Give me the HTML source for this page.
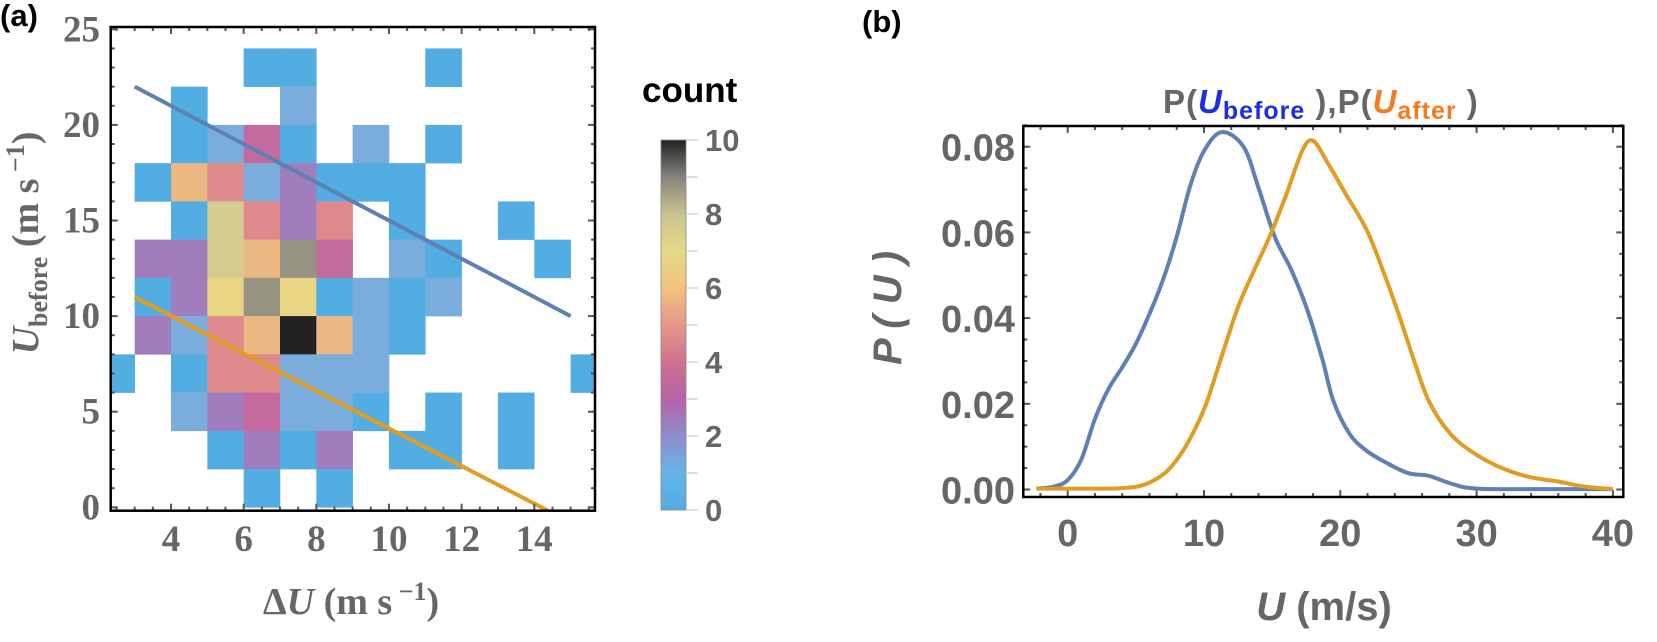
<!DOCTYPE html>
<html><head><meta charset="utf-8"><style>
html,body{margin:0;padding:0;background:#fff;}
svg{display:block;}
</style></head><body>
<svg id="chart" xmlns="http://www.w3.org/2000/svg" width="1657" height="642" viewBox="0 0 1657 642">
<defs>
<clipPath id="clipA"><rect x="110.7" y="27" width="484.3" height="483.7"/></clipPath>
<clipPath id="clipB"><rect x="1023.3" y="126" width="600" height="371"/></clipPath>
<linearGradient id="cbGrad" x1="0" y1="1" x2="0" y2="0">
<stop offset="0" stop-color="#52aee2"/>
<stop offset="0.1" stop-color="#66b4e8"/>
<stop offset="0.2" stop-color="#8f8dcc"/>
<stop offset="0.3" stop-color="#b463a8"/>
<stop offset="0.4" stop-color="#d0718f"/>
<stop offset="0.5" stop-color="#e5978a"/>
<stop offset="0.6" stop-color="#f2c37e"/>
<stop offset="0.7" stop-color="#e7da87"/>
<stop offset="0.8" stop-color="#c9c391"/>
<stop offset="0.9" stop-color="#85847d"/>
<stop offset="1" stop-color="#222222"/>
</linearGradient>
</defs>
<g id="panelA"></g>
<g id="panelB"></g>
<text x="0" y="26" font-family="Liberation Sans, sans-serif" font-weight="bold" font-size="31" fill="#000">(a)</text>
<text x="862" y="32" font-family="Liberation Sans, sans-serif" font-weight="bold" font-size="31" fill="#000">(b)</text>
<text x="642" y="102" font-family="Liberation Sans, sans-serif" font-weight="bold" font-size="35" fill="#000">count</text>
<text transform="translate(38,243) rotate(-90)" text-anchor="middle" font-family="Liberation Serif, serif" font-weight="bold" font-size="38" fill="#666"><tspan font-style="italic">U</tspan><tspan font-size="26" dy="9">before</tspan><tspan dy="-9"> (m s</tspan><tspan font-size="26" dy="-14"> −1</tspan><tspan dy="14">)</tspan></text>
<text x="351" y="614" text-anchor="middle" font-family="Liberation Serif, serif" font-weight="bold" font-size="38" fill="#666">Δ<tspan font-style="italic">U</tspan> (m s<tspan font-size="26" dy="-14"> −1</tspan><tspan dy="14">)</tspan></text>
<text x="1163" y="113" font-family="Liberation Sans, sans-serif" font-weight="bold" font-size="33" letter-spacing="1" fill="#666">P(<tspan fill="#1a2ee6" font-style="italic">U</tspan><tspan fill="#1a2ee6" font-size="25" dy="6">before</tspan><tspan dy="-6"> ),P(</tspan><tspan fill="#f47b20" font-style="italic">U</tspan><tspan fill="#f47b20" font-size="25" dy="6">after</tspan><tspan dy="-6"> )</tspan></text>
<text transform="translate(901,308) rotate(-90)" text-anchor="middle" font-family="Liberation Sans, sans-serif" font-weight="bold" font-style="italic" font-size="40" fill="#666">P ( U )</text>
<text x="1324" y="620" text-anchor="middle" font-family="Liberation Sans, sans-serif" font-weight="bold" font-size="40" fill="#666"><tspan font-style="italic">U</tspan> (m/s)</text>
</svg>
<script>
// ---- Panel (a) data: heatmap cells [dU bin start, U bin start, count]
const cellX = [6,7,11, 4,7, 4,5,6,7,9,11, 3,4,5,6,7,8,9,10, 4,5,6,7,8,10,13, 3,4,5,6,7,8,10,11,14, 3,4,5,6,7,8,9,10,11, 3,4,5,6,7,8,9,10, 2,4,5,6,7,8,9,15, 4,5,6,7,8,9,11,13, 5,6,7,8,10,11,13, 6,8];
const cellY = [22,22,22, 20,20, 18,18,18,18,18,18, 16,16,16,16,16,16,16,16, 14,14,14,14,14,14,14, 12,12,12,12,12,12,12,12,12, 10,10,10,10,10,10,10,10,10, 8,8,8,8,8,8,8,8, 6,6,6,6,6,6,6,6, 4,4,4,4,4,4,4,4, 2,2,2,2,2,2,2, 0,0];
const cellCount = [1,1,1, 1,2, 1,2,4,1,2,1, 1,6,5,2,3,1,1,1, 1,8,5,3,5,1,1, 3,3,8,6,9,4,2,1,1, 1,3,7,9,7,1,2,1,2, 3,2,5,6,10,6,2,1, 1,1,5,5,2,2,2,1, 2,3,4,2,2,1,1,1, 1,3,1,3,1,1,1, 1,1];
const xTicksA = [4,6,8,10,12,14];
const yTicksA = [0,5,10,15,20,25];
const cbTicks = [0,2,4,6,8,10];
const lineBlue = [[3,22],[15,10]];
const lineOrange = [[3,11],[14.4,-0.2]];
// ---- Panel (b) data: density curves
const uBefore = [-2.3,-1,0,1,2,3,4,5,6,7,8,9,10,11.3,12.9,14.0,15.2,16.4,17.6,18.7,19.5,20.7,21.9,23.4,25.0,26.5,28.1,30.0,35,40];
const pBefore = [0.0002,0.0007,0.0022,0.007,0.0165,0.0235,0.0285,0.034,0.041,0.049,0.059,0.071,0.079,0.0834,0.080,0.0704,0.0589,0.0513,0.0417,0.0302,0.0206,0.0129,0.0091,0.0062,0.0038,0.0032,0.0014,0.0002,0.0001,0.0001];
const uAfter = [-2.3,0,2,3.9,5.5,7,8,9.0,10.1,11.3,12.5,13.7,14.8,16.0,17.2,18.0,19.1,20.3,21.9,23.0,24.2,25.4,26.5,28.1,30.0,32.0,33.9,35.9,37.9,40];
const pAfter = [0.0002,0.0002,0.0002,0.0003,0.001,0.0035,0.0069,0.012,0.0195,0.0311,0.0426,0.0513,0.0589,0.0685,0.079,0.0814,0.0761,0.0695,0.0608,0.0522,0.0417,0.0302,0.0206,0.0129,0.0081,0.0048,0.0029,0.0019,0.0007,0.0001];
const xTicksB = [0,10,20,30,40];
const yTicksB = [0,0.02,0.04,0.06,0.08];

const NS = 'http://www.w3.org/2000/svg';
const palette = ['#ffffff','#52aee2','#7aacdc','#a07ebd','#c46a9f','#de8a8c','#ecb882','#ead585','#d5cc90','#969383','#222222'];
function mk(tag, attrs, parent){const e=document.createElementNS(NS,tag);for(const k in attrs)e.setAttribute(k,attrs[k]);parent.appendChild(e);return e;}

const xa = v => 171 + (v-4)*36.33;
const ya = v => 507.3 - v*19.12;
const xb = v => 1067.7 + v*13.63;
const yb = v => 489.5 - v*4285;

// ---------- Panel A ----------
const A = document.getElementById('panelA');
const cellsG = mk('g',{'clip-path':'url(#clipA)'},A);


for(let i=0;i<cellX.length;i++){
  const x0=xa(cellX[i]), x1=xa(cellX[i]+1), y0=ya(cellY[i]+2), y1=ya(cellY[i]);
  const r=mk('rect',{x:x0,y:y0,width:x1-x0+0.3,height:y1-y0+0.3,fill:palette[Math.round(cellCount[i])]||'#222'},cellsG);
  
  
}
const lb=mk('line',{x1:xa(lineBlue[0][0]),y1:ya(lineBlue[0][1]),x2:xa(lineBlue[1][0]),y2:ya(lineBlue[1][1]),stroke:'#5e81b5','stroke-width':4,'clip-path':'url(#clipA)'},A);


const lo=mk('line',{x1:xa(lineOrange[0][0]),y1:ya(lineOrange[0][1]),x2:xa(lineOrange[1][0]),y2:ya(lineOrange[1][1]),stroke:'#e19c24','stroke-width':4,'clip-path':'url(#clipA)'},A);


const tkA=mk('g',{stroke:'#555','stroke-width':2},A);
for(let v=2.5;v<=15.5;v+=0.5){
  const len=(v%2===0)?7:4; const x=xa(v);
  mk('line',{x1:x,y1:510.7,x2:x,y2:510.7-len},tkA);
  mk('line',{x1:x,y1:27,x2:x,y2:27+len},tkA);
}
for(let v=0;v<=25;v+=1){
  const len=(v%5===0)?7:4; const y=ya(v);
  mk('line',{x1:110.7,y1:y,x2:110.7+len,y2:y},tkA);
  mk('line',{x1:595,y1:y,x2:595-len,y2:y},tkA);
}
const frA=mk('rect',{x:110.7,y:27,width:484.3,height:483.7,fill:'none',stroke:'#000','stroke-width':2.5},A);


xTicksA.forEach(v=>{
  const t=mk('text',{x:xa(v),y:551,'text-anchor':'middle','font-family':'Liberation Serif, serif','font-weight':'bold','font-size':37,fill:'#666'},A);
  t.textContent=v;
  
  
});
yTicksA.forEach(v=>{
  const t=mk('text',{x:100,y:ya(v)+12,'text-anchor':'end','font-family':'Liberation Serif, serif','font-weight':'bold','font-size':37,fill:'#666'},A);
  t.textContent=v;
  
  
});
const cbY = v => 510 - v*37;
const cb=mk('rect',{x:661,y:cbY(10),width:25,height:cbY(0)-cbY(10),fill:'url(#cbGrad)',stroke:'#888','stroke-width':0.8},A);


for(let v=0;v<=10;v++){ mk('line',{x1:686,y1:cbY(v),x2:698,y2:cbY(v),stroke:'#ccc','stroke-width':1.2},A); }
cbTicks.forEach(v=>{
  const t=mk('text',{x:705,y:cbY(v)+11,'font-family':'Liberation Sans, sans-serif','font-weight':'bold','font-size':31,fill:'#666'},A);
  t.textContent=v;
  
  
});

// ---------- Panel B ----------
const B=document.getElementById('panelB');
function smoothPath(xs,ys){
  const p=xs.map((x,i)=>[xb(x),yb(ys[i])]);
  let d='M'+p[0][0].toFixed(1)+','+p[0][1].toFixed(1);
  for(let i=0;i<p.length-1;i++){
    const p0=p[i-1]||p[i],p1=p[i],p2=p[i+1],p3=p[i+2]||p2;
    const c1=[p1[0]+(p2[0]-p0[0])/6,p1[1]+(p2[1]-p0[1])/6];
    const c2=[p2[0]-(p3[0]-p1[0])/6,p2[1]-(p3[1]-p1[1])/6];
    d+=' C'+c1.map(n=>n.toFixed(1))+' '+c2.map(n=>n.toFixed(1))+' '+p2.map(n=>n.toFixed(1));
  }
  return d;
}
const tkB=mk('g',{stroke:'#555','stroke-width':2},B);
for(let v=-2;v<=40;v+=2){
  const len=(v%10===0)?7:4; const x=xb(v);
  mk('line',{x1:x,y1:497,x2:x,y2:497-len},tkB);
  mk('line',{x1:x,y1:126,x2:x,y2:126+len},tkB);
}
for(let k=0;k<=17;k++){
  const v=k*0.005; const len=(k%4===0)?7:4; const y=yb(v);
  mk('line',{x1:1023.3,y1:y,x2:1023.3+len,y2:y},tkB);
  mk('line',{x1:1623.3,y1:y,x2:1623.3-len,y2:y},tkB);
}
const cB=mk('path',{d:smoothPath(uBefore,pBefore),fill:'none',stroke:'#5e81b5','stroke-width':4,'clip-path':'url(#clipB)'},B);


const cA=mk('path',{d:smoothPath(uAfter,pAfter),fill:'none',stroke:'#e19c24','stroke-width':4,'clip-path':'url(#clipB)'},B);


const frB=mk('rect',{x:1023.3,y:126,width:600,height:371,fill:'none',stroke:'#000','stroke-width':2.5},B);


xTicksB.forEach(v=>{
  const t=mk('text',{x:xb(v),y:546,'text-anchor':'middle','font-family':'Liberation Sans, sans-serif','font-weight':'bold','font-size':38,fill:'#666'},B);
  t.textContent=v;
  
  
});
yTicksB.forEach(v=>{
  const t=mk('text',{x:1015,y:yb(v)+14,'text-anchor':'end','font-family':'Liberation Sans, sans-serif','font-weight':'bold','font-size':38,fill:'#666'},B);
  t.textContent=v.toFixed(2);
  
  
});
</script>
</body></html>
